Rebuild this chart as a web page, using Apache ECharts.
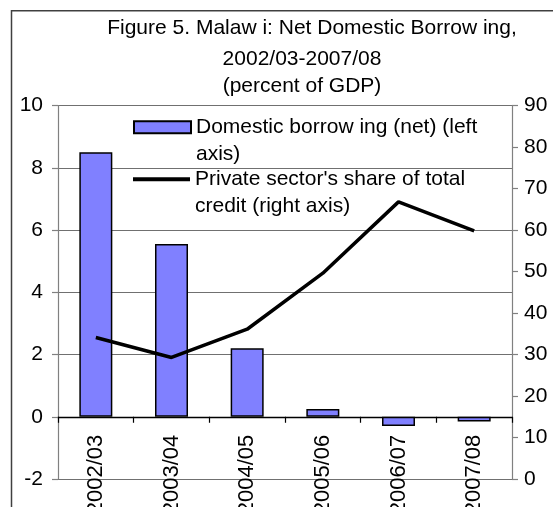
<!DOCTYPE html>
<html>
<head>
<meta charset="utf-8">
<script src="https://cdn.jsdelivr.net/npm/echarts@6/dist/echarts.min.js"></script>
<style>
  html, body { margin: 0; padding: 0; background: #fff; }
  #chart { width: 553px; height: 507px; }
</style>
</head>
<body>
<div id="chart"></div>
<script>
// Fiscal years
const categories = ['2002/03', '2003/04', '2004/05', '2005/06', '2006/07', '2007/08'];
// Net domestic borrowing, percent of GDP (left axis)
const domesticBorrowing = [8.5, 5.55, 2.2, 0.25, -0.3, -0.15];
// Private sector share of total credit, percent (right axis)
const privateShare = [34.1, 29.3, 36.1, 49.6, 66.8, 59.8];

const titleLines = [
  'Figure 5. Malaw i: Net Domestic Borrow ing,',
  '2002/03-2007/08',
  '(percent of GDP)'
];
const barName = 'Domestic borrow ing (net) (left axis)';
const lineName = "Private sector's share of total credit (right axis)";

const FONT = 'Liberation Sans, Arial, sans-serif';
const chart = echarts.init(document.getElementById('chart'), null, { renderer: 'canvas' });

const titleStyle = { fontFamily: FONT, fontSize: 21, fontWeight: 'normal', color: '#000', lineHeight: 24 };
const legendText = { fontFamily: FONT, fontSize: 21, color: '#000', lineHeight: 26.5 };

chart.setOption({
  animation: false,
  backgroundColor: '#fff',
  title: [
    { text: titleLines[0], left: 312, top: 16.3, textAlign: 'center', padding: 0, textStyle: titleStyle },
    { text: titleLines[1], left: 302, top: 47.2, textAlign: 'center', padding: 0, textStyle: titleStyle },
    { text: titleLines[2], left: 302, top: 74.7, textAlign: 'center', padding: 0, textStyle: titleStyle }
  ],
  graphic: [{
    type: 'rect',
    shape: { x: 11.5, y: 10.8, width: 600, height: 600 },
    style: { fill: 'none', stroke: '#404040', lineWidth: 1.5 },
    silent: true
  }],
  legend: [
    {
      data: [barName],
      left: 133, top: 87.5, padding: 0,
      itemWidth: 57, itemHeight: 12, icon: 'rect',
      formatter: () => '\nDomestic borrow ing (net) (left\naxis)',
      textStyle: legendText,
      selectedMode: false
    },
    {
      // line key drawn as a thin bar so no point marker appears on it
      data: [{ name: lineName, icon: 'rect', itemStyle: { color: '#000', borderWidth: 0 } }],
      left: 133, top: 139.5, padding: 0,
      itemWidth: 57, itemHeight: 4,
      formatter: () => "\nPrivate sector's share of total\ncredit (right axis)",
      textStyle: legendText,
      selectedMode: false
    }
  ],
  grid: { left: 58, right: 41, top: 105.6, bottom: 28, containLabel: false, outerBoundsMode: 'none' },
  xAxis: {
    type: 'category',
    data: categories,
    boundaryGap: true,
    position: 'bottom',
    axisLine: { show: true, onZero: false, lineStyle: { color: '#000', width: 1.3 } },
    axisTick: { show: true, inside: false, length: 6, alignWithLabel: false, lineStyle: { color: '#000', width: 1.2 } },
    axisLabel: { rotate: 90, margin: 18, fontFamily: FONT, fontSize: 22, color: '#000', interval: 0 },
    splitLine: { show: false }
  },
  yAxis: [
    {
      type: 'value', min: -2, max: 10, interval: 2, position: 'left',
      axisLine: { show: true, lineStyle: { color: '#808080', width: 1.2 } },
      axisTick: { show: true, inside: false, length: 6, lineStyle: { color: '#808080', width: 1.2 } },
      axisLabel: { margin: 15, fontFamily: FONT, fontSize: 21, color: '#000' },
      splitLine: { show: true, lineStyle: { color: '#707070', width: 1.2 } }
    },
    {
      type: 'value', min: 0, max: 90, interval: 10, position: 'right',
      axisLine: { show: true, lineStyle: { color: '#808080', width: 1.2 } },
      axisTick: { show: true, inside: false, length: 6, lineStyle: { color: '#808080', width: 1.2 } },
      axisLabel: { margin: 12, fontFamily: FONT, fontSize: 21, color: '#000' },
      splitLine: { show: false }
    }
  ],
  series: [
    {
      name: barName,
      type: 'bar',
      yAxisIndex: 0,
      data: domesticBorrowing,
      barWidth: 33,
      itemStyle: { color: '#8080ff', borderColor: '#000', borderWidth: 1.5 }
    },
    {
      name: lineName,
      type: 'line',
      yAxisIndex: 1,
      data: privateShare,
      symbol: 'none',
      lineStyle: { color: '#000', width: 3.5 },
      itemStyle: { color: '#000' }
    }
  ]
});

// Move the category axis up so it sits on the zero line of the left scale.
const zeroY = chart.convertToPixel({ yAxisIndex: 0 }, 0);
const floorY = chart.convertToPixel({ yAxisIndex: 0 }, -2);
chart.setOption({ xAxis: { offset: -(floorY - zeroY) } });
</script>
</body>
</html>
